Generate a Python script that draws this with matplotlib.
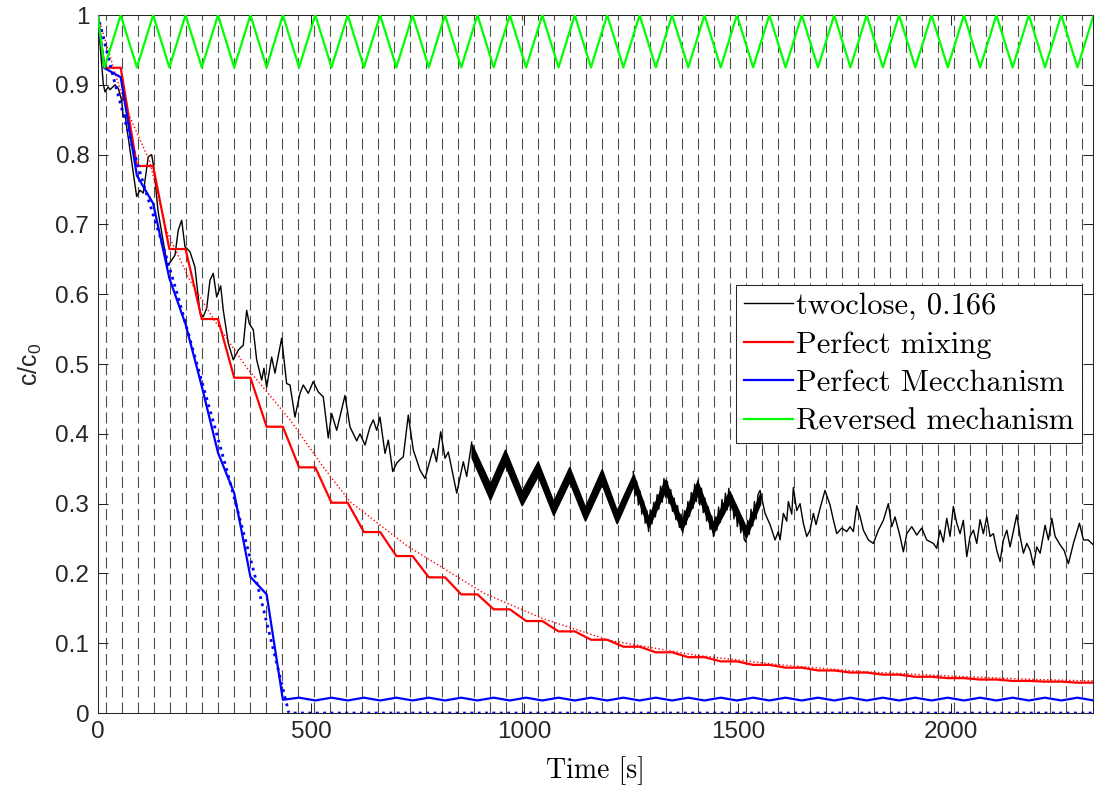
import numpy as np
import matplotlib
matplotlib.use("Agg")
import matplotlib.pyplot as plt

plt.rcParams["mathtext.fontset"] = "custom"
plt.rcParams["mathtext.rm"] = "Liberation Sans"
plt.rcParams["mathtext.it"] = "Liberation Sans:italic"

T_END = 2333

# switching instants of the mechanism (dashed lines)
switch_lines = np.arange(18.75, T_END, 37.5)

# vertices of the reversed mechanism / perfect mixing stairs
vertex_t = np.r_[0, np.arange(16, T_END + 2, 38)]
green_v = [1.0] + [0.925, 1.0] * 31

# perfect mixing: flat levels (each held from a trough to the next peak)
red_levels = [0.9245, 0.7837, 0.6648, 0.5645, 0.4804, 0.4102, 0.352, 0.3013,
              0.2593, 0.2249, 0.1944, 0.170, 0.1486, 0.1318, 0.117, 0.105,
              0.095, 0.087, 0.080, 0.074, 0.069, 0.065, 0.061, 0.058, 0.055,
              0.052, 0.050, 0.048, 0.046, 0.045, 0.0435]

red_dot_t = [0, 64, 122, 162, 216, 271, 349, 451, 529, 591, 724, 904, 1044,
             1200, 1400, 1600, 1800, 2000, 2200, 2335]
red_dot_v = [1.0, 0.87, 0.79, 0.69, 0.62, 0.565, 0.495, 0.42, 0.352, 0.303,
             0.240, 0.172, 0.135, 0.104, 0.083, 0.069, 0.059, 0.053, 0.048, 0.046]

# perfect mechanism
blue_v = [1.0, 0.924, 0.911, 0.770, 0.730, 0.623, 0.557, 0.468, 0.373, 0.315,
          0.195, 0.170, 0.019] + [0.022, 0.018] * 25
blue_dot_t = [0, 38, 76, 114, 152, 190, 228, 266, 304, 342, 380, 418, 448, 2335]
blue_dot_v = [1.0, 0.908, 0.822, 0.745, 0.672, 0.593, 0.51, 0.428, 0.345,
              0.258, 0.17, 0.075, 0.0, 0.0]

# measurement "twoclose, 0.166"
meas_t = [0, 13.1, 17.1, 24.8, 28.8, 40.5, 48.3, 56.2, 60.0, 64.0, 91.4, 99.1,
          106.9, 118.6, 126.6, 131.9, 141.3, 163.6, 181.2, 188.9, 196.9, 204.6,
          216.3, 228.0, 239.8, 247.5, 255.5, 263.2, 270.9, 278.9, 288.3, 294.4,
          306.1, 317.8, 329.5, 341.2, 349.2, 355.3, 364.7, 372.6, 384.4, 389.7,
          396.1, 407.8, 415.5, 431.2, 442.9, 450.7, 462.4, 474.1, 481.8, 493.6,
          505.3, 517.0, 528.7, 540.4, 548.4, 560.1, 579.6, 591.3, 607.0, 614.7,
          626.5, 638.2, 645.9, 653.9, 661.6, 673.3, 681.1, 691.4, 700.7, 708.5,
          716.2, 727.9, 739.6, 755.4, 767.1, 786.5, 794.0, 803.8, 814.0, 821.7,
          841.4, 856.8, 864.8, 876.5]
meas_v = [1.0, 0.902, 0.89, 0.897, 0.893, 0.90, 0.895, 0.878, 0.854, 0.857,
          0.74, 0.749, 0.745, 0.797, 0.80, 0.78, 0.72, 0.64, 0.656, 0.692,
          0.706, 0.668, 0.661, 0.639, 0.573, 0.568, 0.58, 0.62, 0.63, 0.596,
          0.612, 0.577, 0.53, 0.506, 0.52, 0.527, 0.577, 0.558, 0.549, 0.506,
          0.477, 0.494, 0.467, 0.51, 0.487, 0.537, 0.472, 0.47, 0.424, 0.458,
          0.47, 0.458, 0.475, 0.46, 0.453, 0.394, 0.429, 0.405, 0.455, 0.41,
          0.39, 0.40, 0.384, 0.41, 0.42, 0.405, 0.424, 0.372, 0.391, 0.346,
          0.358, 0.363, 0.367, 0.427, 0.377, 0.348, 0.336, 0.379, 0.36, 0.403,
          0.365, 0.374, 0.315, 0.36, 0.339, 0.388]

# dense oscillation band (upper / lower envelope)
band_t = [876.5, 919.4, 954.6, 993.7, 1031.2, 1067.7, 1105.2, 1142.0, 1181.2,
          1216.3, 1255.2, 1290.4, 1329.5, 1368.7, 1405.2, 1442.7, 1480.2,
          1519.3, 1552.2]
band_hi = [0.385, 0.328, 0.377, 0.318, 0.360, 0.303, 0.352, 0.295, 0.349,
           0.290, 0.342, 0.280, 0.334, 0.276, 0.332, 0.272, 0.318, 0.266, 0.314]
band_lo = [0.366, 0.306, 0.356, 0.298, 0.340, 0.284, 0.332, 0.276, 0.328,
           0.272, 0.326, 0.266, 0.318, 0.262, 0.314, 0.258, 0.302, 0.252, 0.300]

meas2_t = [1255, 1259, 1263, 1267, 1271, 1275, 1279, 1283, 1287, 1291, 1295,
           1299, 1303, 1307, 1311, 1315, 1319, 1323, 1327, 1331, 1335, 1339,
           1343, 1347, 1351, 1355, 1359, 1363, 1367, 1371, 1375, 1379, 1383,
           1387, 1391, 1395, 1399, 1403, 1407, 1411, 1415, 1419, 1423, 1427,
           1431, 1435, 1439, 1443, 1447, 1451, 1455, 1459, 1463, 1467, 1471,
           1475, 1479, 1483, 1487, 1491, 1495, 1499, 1503, 1507, 1511, 1515,
           1519, 1523, 1527, 1531, 1535, 1539, 1543, 1547, 1552.2, 1563.9,
           1575.6, 1587.3, 1595.1, 1599.1, 1606.8, 1614.7, 1618.5, 1626.5,
           1630.2, 1638.2, 1645.9, 1653.6, 1661.6, 1669.3, 1677.1, 1683.4,
           1692.7, 1704.4, 1716.2, 1723.9, 1731.9, 1743.6, 1755.3, 1763.1,
           1770.8, 1778.8, 1786.5, 1794.3, 1806.0, 1817.7, 1829.4, 1841.1,
           1852.8, 1860.8, 1868.5, 1880.3, 1888.0, 1896.0, 1907.7, 1919.4,
           1931.1, 1942.8, 1958.3, 1966.2, 1974.0, 1981.7, 1989.7, 1997.4,
           2005.2, 2013.1, 2020.9, 2028.6, 2036.6, 2044.3, 2052.1, 2060.0,
           2067.8, 2075.5, 2083.5, 2091.2, 2099.0, 2106.9, 2114.7, 2122.4,
           2130.4, 2138.1, 2153.8, 2161.6, 2169.3, 2177.3, 2185.0, 2192.8,
           2200.7, 2208.5, 2220.2, 2227.9, 2235.9, 2243.6, 2255.4, 2264.7,
           2274.8, 2286.5, 2300.6, 2309.9, 2320.9, 2333.2]
meas2_v = [0.346, 0.311, 0.332, 0.298, 0.318, 0.285, 0.304, 0.272, 0.290, 0.260,
           0.291, 0.271, 0.302, 0.281, 0.313, 0.292, 0.325, 0.302, 0.336, 0.309,
           0.332, 0.300, 0.320, 0.289, 0.308, 0.277, 0.297, 0.266, 0.285, 0.258,
           0.290, 0.270, 0.303, 0.282, 0.316, 0.293, 0.328, 0.303, 0.334, 0.298,
           0.322, 0.287, 0.308, 0.275, 0.295, 0.263, 0.282, 0.253, 0.281, 0.262,
           0.295, 0.273, 0.306, 0.284, 0.315, 0.291, 0.322, 0.290, 0.311, 0.278,
           0.298, 0.267, 0.287, 0.258, 0.279, 0.249, 0.245, 0.276, 0.256, 0.292,
           0.268, 0.303, 0.278, 0.312, 0.319, 0.286, 0.27, 0.248, 0.26, 0.248,
           0.286, 0.275, 0.303, 0.285, 0.323, 0.29, 0.30, 0.272, 0.253, 0.262,
           0.286, 0.27, 0.293, 0.319, 0.298, 0.277, 0.257, 0.265, 0.26, 0.267,
           0.26, 0.297, 0.282, 0.262, 0.248, 0.243, 0.262, 0.276, 0.300, 0.267,
           0.281, 0.253, 0.231, 0.257, 0.267, 0.255, 0.265, 0.248, 0.243, 0.236,
           0.262, 0.245, 0.279, 0.253, 0.296, 0.272, 0.257, 0.276, 0.224, 0.253,
           0.262, 0.243, 0.277, 0.257, 0.281, 0.253, 0.257, 0.233, 0.217, 0.248,
           0.262, 0.238, 0.284, 0.253, 0.229, 0.243, 0.233, 0.212, 0.238, 0.229,
           0.269, 0.248, 0.279, 0.253, 0.241, 0.233, 0.214, 0.243, 0.272, 0.248,
           0.248, 0.241]

fig = plt.figure(figsize=(10.96, 7.92), dpi=100)
ax = fig.add_axes([0.0891, 0.0997, 0.9084, 0.8813])

for xl in switch_lines:
    ax.axvline(xl, color=(0.3, 0.3, 0.3), lw=0.8, ls=(0, (10, 4.5)), zorder=1)

# stairs for perfect mixing built from the flat levels
red_t = [0.0]
red_v = [1.0]
for k, lvl in enumerate(red_levels):
    red_t += [vertex_t[2 * k + 1], vertex_t[2 * k + 2]]
    red_v += [lvl, lvl]

ax.plot(meas_t, meas_v, color="k", lw=1.0, label="twoclose, 0.166", zorder=3)
ax.fill_between(band_t, band_lo, band_hi, color="k", lw=1.2, zorder=3)
ax.plot(meas2_t, meas2_v, color="k", lw=1.0, zorder=3)
ax.plot(red_t, red_v, color="r", lw=1.6, label="Perfect mixing", zorder=4)
ax.plot(red_dot_t, red_dot_v, color="r", lw=1.0, ls=":", zorder=4)
ax.plot(vertex_t[:len(blue_v)], blue_v, color="b", lw=1.6,
        label="Perfect Mecchanism", zorder=5)
ax.plot(blue_dot_t, blue_dot_v, color="b", lw=2.0, ls=":", zorder=5)
ax.plot(vertex_t, green_v, color=(0, 1, 0), lw=1.6,
        label="Reversed mechanism", zorder=6)

ax.set_xlim(0, T_END)
ax.set_ylim(0, 1)
ax.set_xticks([0, 500, 1000, 1500, 2000])
ax.set_yticks(np.arange(0, 1.01, 0.1))
ax.set_yticklabels(["0", "0.1", "0.2", "0.3", "0.4", "0.5", "0.6", "0.7",
                    "0.8", "0.9", "1"])
dark = (0.15, 0.15, 0.15)
ax.tick_params(direction="in", length=7.5, width=0.75, colors=dark,
               top=True, right=True, labelsize=17.5, pad=6)
for lab in ax.get_xticklabels() + ax.get_yticklabels():
    lab.set_family("Liberation Sans")
for sp in ax.spines.values():
    sp.set_color(dark)
    sp.set_linewidth(0.75)

ax.set_xlabel("Time [s]", family="cmr10", fontsize=20, labelpad=9)
ax.set_ylabel("c/c$_0$", family="Liberation Sans", fontsize=18, labelpad=8,
              color=dark)

leg = ax.legend(loc="upper right", bbox_to_anchor=(0.9887, 0.6132),
                borderaxespad=0, fancybox=False, framealpha=1,
                edgecolor=dark, handlelength=1.6, handletextpad=0.12,
                borderpad=0.25, labelspacing=0.36,
                prop={"family": "cmr10", "size": 22})
leg.get_frame().set_linewidth(0.75)

fig.savefig("out.png", dpi=100)
